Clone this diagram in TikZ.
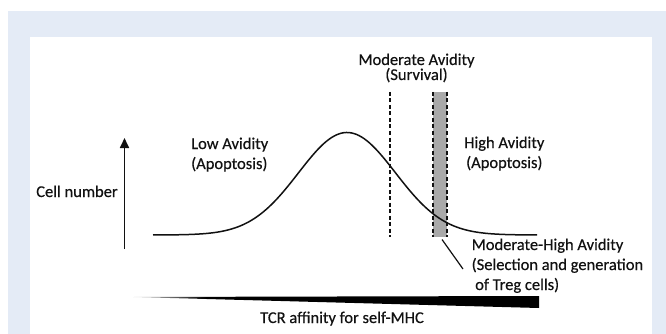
\documentclass[tikz,border=0pt]{standalone}
\usepackage{fontspec}
\setmainfont{Carlito}[FakeBold=0.4]
\usetikzlibrary{arrows.meta}
\definecolor{bgblue}{HTML}{E4EBF6}
\definecolor{bargray}{HTML}{A9A9A9}
\definecolor{inkc}{HTML}{111111}
\pgfdeclarehorizontalshading{wedgeshade}{100bp}{color(0bp)=(gray!25); color(25bp)=(gray!25); color(34bp)=(black); color(100bp)=(black)}
\begin{document}
\begin{tikzpicture}[x=1pt,y=-1pt,
  lbl/.style={inner sep=0pt, font=\fontsize{16.5}{20}\selectfont, text=inkc},
  dline/.style={line width=1.9pt, dash pattern=on 4pt off 2.5pt, draw=inkc},
  curveline/.style={line width=1.5pt, draw=inkc},
  axisarrow/.style={line width=1.7pt, draw=inkc, -{Triangle[length=10pt,width=9pt]}},
  leader/.style={line width=1.2pt, draw=inkc}]
\useasboundingbox (0,0) rectangle (666,334);
\fill[white] (0,0) rectangle (666,334);
\fill[bgblue] (8,11) rectangle (666,334);
\fill[white] (30,37) rectangle (652,334);
% gray band
\fill[bargray] (433,92) rectangle (447,237);
\coordinate (bl0) at (433,92); \coordinate (bl1) at (433,237);
\coordinate (br0) at (447,92); \coordinate (br1) at (447,237);
\draw[dline] (bl0) -- (bl1);
\draw[dline] (br0) -- (br1);
% moderate dashed line
\coordinate (d0) at (390,92); \coordinate (d1) at (390,237);
\draw[dline] (d0) -- (d1);
% bell curve
\draw[curveline] plot[domain=153:537, samples=150, smooth]
  (\x,{235-102.5*exp(-0.5*((\x-347)/48.5)*((\x-347)/48.5))});
% y arrow
\coordinate (ab) at (124.5,249); \coordinate (at) at (124.5,138);
\draw[axisarrow] (ab) -- (at);
% leader line
\coordinate (lead0) at (442,239.5); \coordinate (lead1) at (463,269);
\draw[leader] (lead0) -- (lead1);
% wedge
\shade[shading=wedgeshade] (133,297) -- (539,296) -- (539,308) -- cycle;
% labels
\node[lbl, anchor=base] (mod1) at (416.5,65) {Moderate Avidity};
\node[lbl, anchor=base] (mod2) at (416.5,80) {(Survival)};
\node[lbl, anchor=base west] (low1) at (191,149) {Low Avidity};
\node[lbl, anchor=base west] (low2) at (191,169) {(Apoptosis)};
\node[lbl, anchor=base west] (high1) at (464,148) {High Avidity};
\node[lbl, anchor=base west] (high2) at (466,168) {(Apoptosis)};
\node[lbl, anchor=base] (cell) at (77,197) {Cell number};
\node[lbl, anchor=base west] (mh1) at (471.5,250) {Moderate-High Avidity};
\node[lbl, anchor=base west] (mh2) at (471.5,270) {(Selection and generation};
\node[lbl, anchor=base west] (mh3) at (475,290) {of Treg cells)};
\node[lbl, anchor=base] (tcr) at (342,323) {TCR affinity for self-MHC};
\end{tikzpicture}
\end{document}
